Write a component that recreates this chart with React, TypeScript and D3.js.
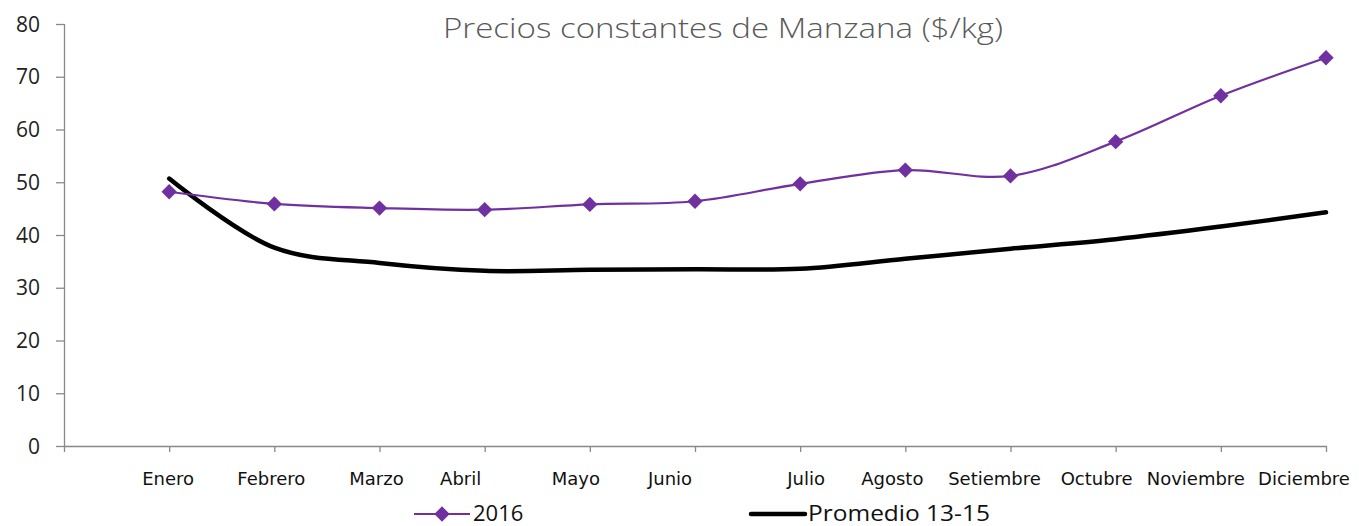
import React, { useEffect, useRef } from "react";
import * as d3 from "d3";

const months = ["", "Enero", "Febrero", "Marzo", "Abril", "Mayo", "Junio", "Julio", "Agosto", "Setiembre", "Octubre", "Noviembre", "Diciembre"];
const series2016 = [48.2, 45.9, 45.1, 44.8, 45.8, 46.4, 49.7, 52.3, 51.2, 57.7, 66.4, 73.6];
const promedio = [50.7, 37.6, 34.7, 33.2, 33.4, 33.5, 33.6, 35.5, 37.4, 39.2, 41.6, 44.3];
const yTicks = [0, 10, 20, 30, 40, 50, 60, 70, 80];
const title = "Precios constantes de Manzana ($/kg)";

// layout: horizontal nudges of the month labels relative to their tick (as in the reference)
const labelNudge = [0, -1, -3, -3, -24, -14, -25, 6, -13, -16, -19, -25, -22];

const W = 1359, H = 526;
const left = 64, right = 1326, top = 24, bottom = 446;
const PURPLE = "#7030A0";
const AXIS = "#898989";

export default function App() {
  const ref = useRef<SVGSVGElement>(null);
  useEffect(() => {
    const svg = d3.select(ref.current);
    svg.selectAll("*").remove();
    const x = d3.scalePoint<string>().domain(months).range([left, right]);
    const y = d3.scaleLinear().domain([0, 80]).range([bottom, top]);

    // axes
    const g = svg.append("g");
    g.append("line").attr("x1", left + 0.5).attr("x2", left + 0.5).attr("y1", top).attr("y2", bottom).attr("stroke", AXIS).attr("stroke-width", 1.3);
    g.append("line").attr("x1", left).attr("x2", right + 1).attr("y1", bottom + 0.5).attr("y2", bottom + 0.5).attr("stroke", AXIS).attr("stroke-width", 1.3);
    yTicks.forEach((t) => {
      g.append("line").attr("x1", left - 8).attr("x2", left).attr("y1", y(t) + 0.5).attr("y2", y(t) + 0.5).attr("stroke", AXIS).attr("stroke-width", 1.3);
      g.append("text").attr("x", 40).attr("y", y(t)).attr("dy", "0.36em").attr("text-anchor", "end")
        .attr("font-family", "'Open Sans', sans-serif").attr("font-size", 21).attr("fill", "#222").text(t);
    });
    months.forEach((m, i) => {
      const xx = x(m)!;
      g.append("line").attr("x1", xx + 0.5).attr("x2", xx + 0.5).attr("y1", bottom).attr("y2", bottom + 6).attr("stroke", AXIS).attr("stroke-width", 1.3);
      if (m) {
        const t = g.append("text").attr("x", xx + labelNudge[i]).attr("y", 485).attr("text-anchor", "middle")
          .attr("font-family", "'DejaVu Sans', sans-serif").attr("font-size", 18).attr("fill", "#111").text(m);
        const bb = (t.node() as SVGTextElement).getBBox();
        if (bb.x + bb.width > W - 6) t.attr("text-anchor", "end").attr("x", W - 8);
      }
    });

    const xs = months.slice(1);
    const line = d3.line<number>().x((_, i) => x(xs[i])!).y((d) => y(d)).curve(d3.curveCatmullRom.alpha(0.5));

    svg.append("path").attr("d", line(promedio)).attr("fill", "none").attr("stroke", "#000").attr("stroke-width", 4.5).attr("stroke-linecap", "round");
    svg.append("path").attr("d", line(series2016)).attr("fill", "none").attr("stroke", PURPLE).attr("stroke-width", 2.2);
    const diamond = d3.symbol().type(d3.symbolDiamond2).size(150);
    series2016.forEach((v, i) => {
      svg.append("path").attr("d", diamond()).attr("transform", `translate(${x(xs[i])},${y(v)})`).attr("fill", PURPLE);
    });

    // title
    svg.append("text").attr("x", 443).attr("y", 38)
      .attr("font-family", "'Open Sans', sans-serif").attr("font-weight", 300).attr("font-size", 28)
      .attr("textLength", 560).attr("lengthAdjust", "spacingAndGlyphs")
      .attr("fill", "#595959").text(title);

    // legend
    const ly = 514;
    svg.append("line").attr("x1", 414).attr("x2", 470).attr("y1", ly).attr("y2", ly).attr("stroke", PURPLE).attr("stroke-width", 2.2);
    svg.append("path").attr("d", diamond()).attr("transform", `translate(442,${ly})`).attr("fill", PURPLE);
    svg.append("text").attr("x", 473).attr("y", 521).attr("font-family", "'Open Sans', sans-serif").attr("font-size", 22).attr("fill", "#111").text("2016");
    svg.append("line").attr("x1", 751).attr("x2", 805).attr("y1", ly).attr("y2", ly).attr("stroke", "#000").attr("stroke-width", 4.5).attr("stroke-linecap", "round");
    svg.append("text").attr("x", 808).attr("y", 521).attr("font-family", "'Open Sans', sans-serif").attr("font-size", 22)
      .attr("textLength", 182).attr("lengthAdjust", "spacingAndGlyphs").attr("fill", "#111").text("Promedio 13-15");
  }, []);
  return (
    <svg ref={ref} width={W} height={H} style={{ position: "absolute", left: 0, top: 0, background: "#fff" }} />
  );
}
